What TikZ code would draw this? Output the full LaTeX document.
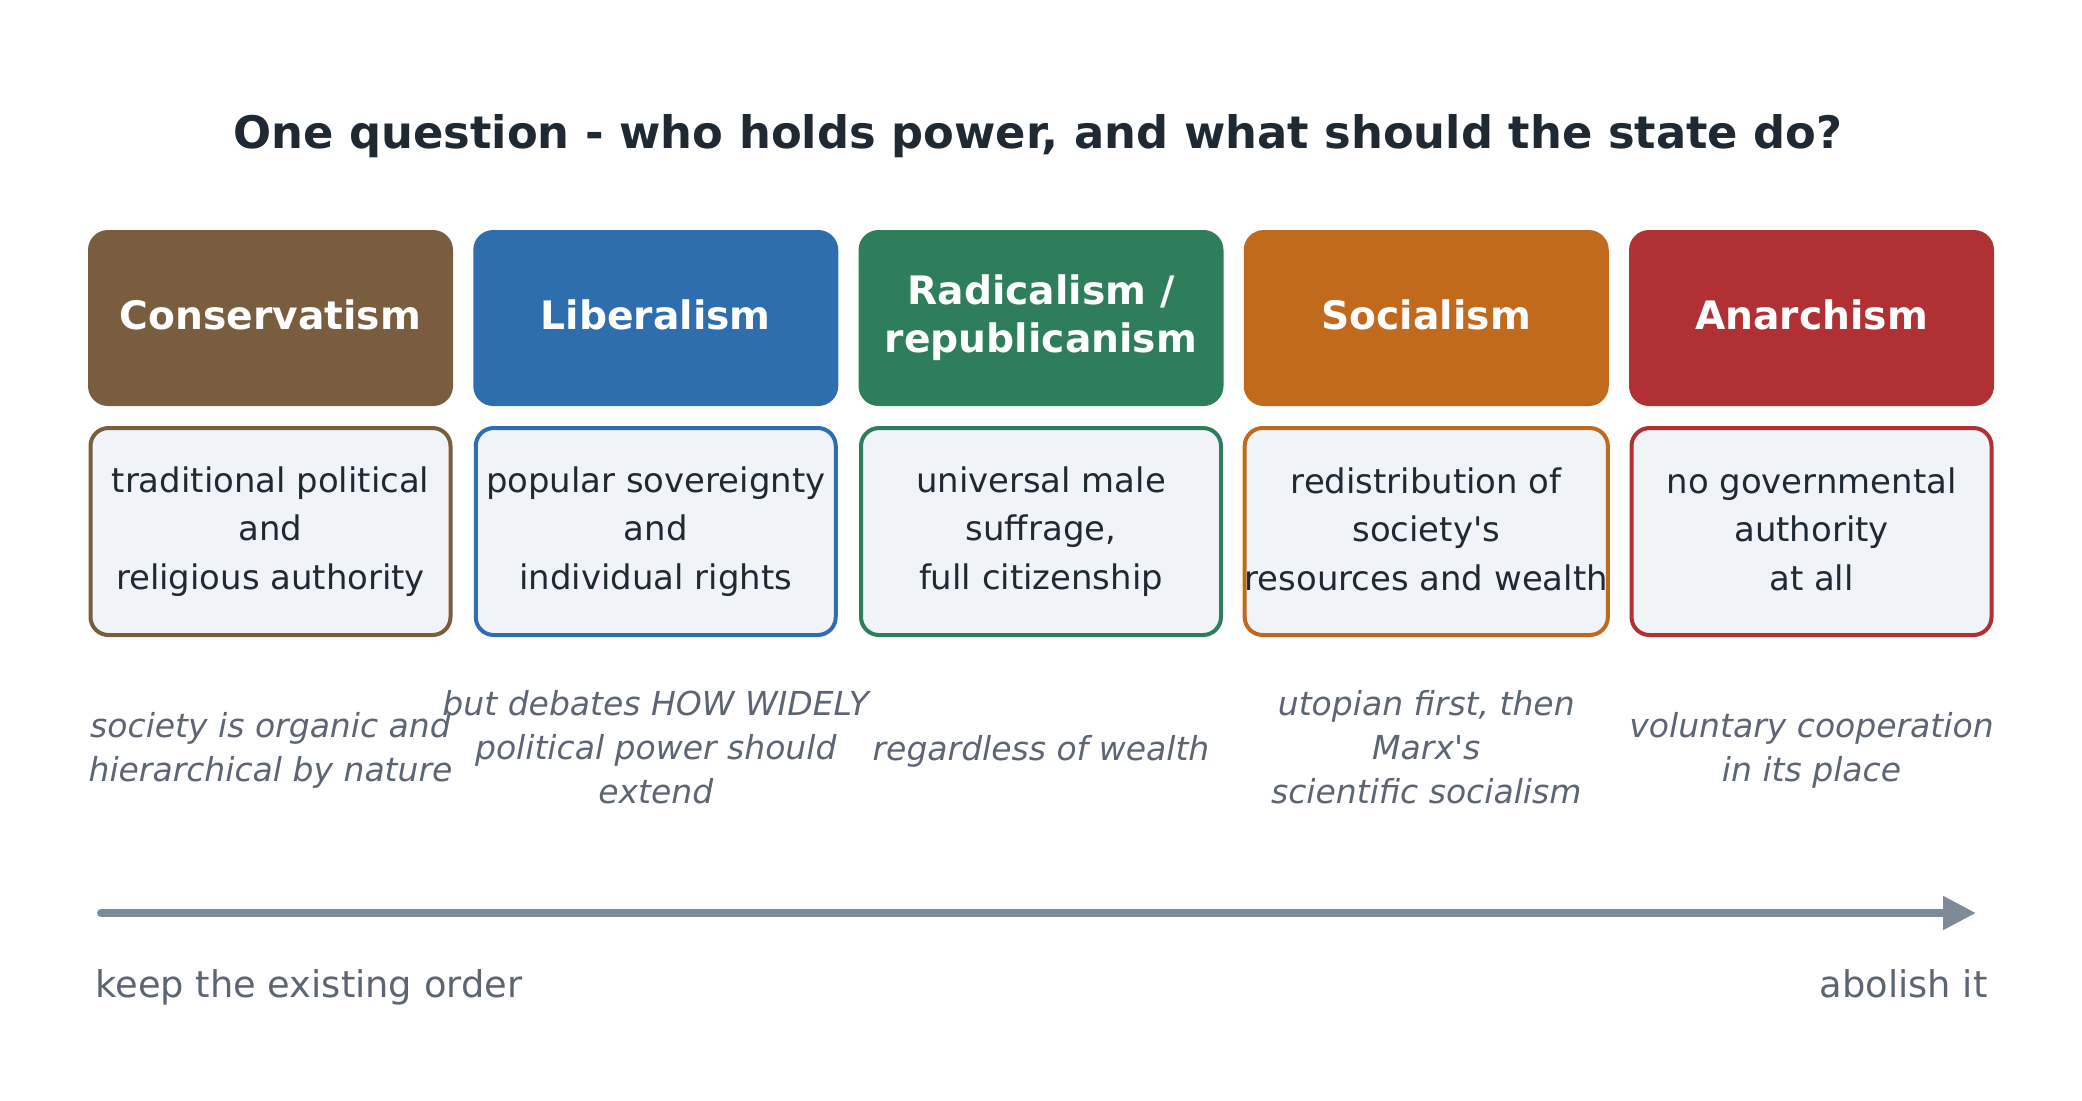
\documentclass[tikz,border=0pt]{standalone}
\usepackage{fontspec}
\setmainfont{DejaVu Sans}[
  BoldFont={DejaVu Sans Bold},
  ItalicFont={DejaVu Sans Oblique},
  BoldItalicFont={DejaVu Sans Bold Oblique}]
\usepackage{xcolor}
\usepackage{tikz}
\usetikzlibrary{positioning, arrows.meta}
\definecolor{ConsBrown}{HTML}{7A5C3E}
\definecolor{LibBlue}{HTML}{2E6EAF}
\definecolor{RadGreen}{HTML}{2E7D5B}
\definecolor{SocOrange}{HTML}{C1691C}
\definecolor{AnaRed}{HTML}{B03033}
\definecolor{InkDark}{HTML}{1F2933}
\definecolor{NoteGrey}{HTML}{5B6573}
\definecolor{ArrowGrey}{HTML}{7D8B99}
\definecolor{PaleFill}{HTML}{F0F4F8}

\begin{document}
\begin{tikzpicture}[x=0.5pt, y=-0.5pt,
		head/.style={rounded corners=10pt, minimum width=182.5pt, minimum height=88pt, inner sep=0pt, align=center, text=white, font=\bfseries\fontsize{19.6}{24}\selectfont,
			execute at begin node=\rule{0pt}{14pt}, execute at end node=\rule[-3pt]{0pt}{3pt}},
		desc/.style={rounded corners=9pt, line width=2pt, fill=PaleFill, minimum width=180pt, minimum height=103.5pt, inner sep=0pt, align=center, text=InkDark, font=\fontsize{16.95}{24.2}\selectfont,
			execute at begin node=\rule{0pt}{21.6pt}, execute at end node=\rule[-2.6pt]{0pt}{2.6pt}},
		note/.style={align=center, inner sep=0pt, text=NoteGrey, font=\itshape\fontsize{16.5}{21.9}\selectfont,
			execute at begin node=\rule{0pt}{18pt}, execute at end node=\rule[-3.9pt]{0pt}{3.9pt}},
		endlabel/.style={inner sep=0pt, text=NoteGrey, font=\fontsize{18.4}{22}\selectfont}]
		\useasboundingbox (0,0) rectangle (2082,1100);
		
		\node[font=\bfseries\fontsize{22.4}{27}\selectfont, text=InkDark] (title) at (1038,136) {One question - who holds power, and what should the state do?};
		
		% headings
		\node[head, fill=ConsBrown] (cons) at (270.5,318) {Conservatism};
		\node[head, fill=LibBlue] (lib) at (655.75,318) {Liberalism};
		\node[head, fill=RadGreen] (rad) at (1041,318) {Radicalism /\\republicanism};
		\node[head, fill=SocOrange] (soc) at (1426.25,318) {Socialism};
		\node[head, fill=AnaRed] (ana) at (1811.5,318) {Anarchism};
		
		% what each one stands for
		\node[desc, draw=ConsBrown, below=9.8pt of cons] (consd) {traditional political\\and\\religious authority};
		\node[desc, draw=LibBlue, below=9.8pt of lib] (libd) {popular sovereignty\\and\\individual rights};
		\node[desc, draw=RadGreen, below=9.8pt of rad] (radd) {universal male\\suffrage,\\full citizenship};
		\node[desc, draw=SocOrange, below=9.8pt of soc] (socd) {redistribution of\\society\textquotesingle s\\resources and wealth};
		\node[desc, draw=AnaRed, below=9.8pt of ana] (anad) {no governmental\\authority\\at all};
		
		% side notes
		\node[note] (consn) at (270.5,751) {society is organic and\\hierarchical by nature};
		\node[note] (libn) at (655.75,751) {but debates HOW WIDELY\\political power should\\extend};
		\node[note] (radn) at (1041,746) {regardless of wealth};
		\node[note] (socn) at (1426.25,751) {utopian first, then\\Marx\textquotesingle s\\scientific socialism};
		\node[note] (anan) at (1811.5,751) {voluntary cooperation\\in its place};
		
		% the spectrum
		\coordinate (left) at (101,913);
		\coordinate (right) at (1976,913);
		\draw[ArrowGrey, line width=4pt, line cap=round, -{Triangle[length=16.5pt, width=16pt]}] (left) -- (right);
		
		\node[endlabel, anchor=base west] (keep) at (95,997) {keep the existing order};
		\node[endlabel, anchor=base east] (abolish) at (1988,997) {abolish it};
	\end{tikzpicture}
\end{document}
